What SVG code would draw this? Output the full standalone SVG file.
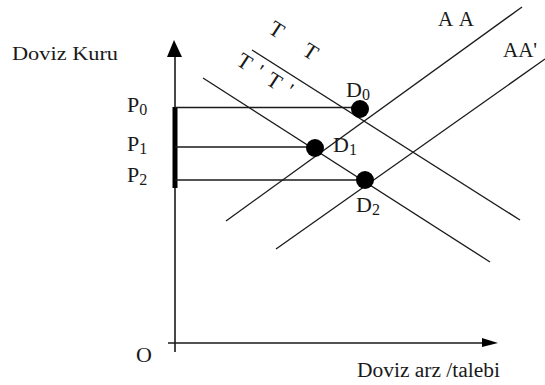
<svg xmlns="http://www.w3.org/2000/svg" width="545" height="385" viewBox="0 0 545 385">
<style>
.ln{stroke:#1a1a1a;stroke-width:1.3;fill:none}
.ax{stroke:#1a1a1a;stroke-width:1.6;fill:none}
.t{font-family:"Liberation Serif","Times New Roman",serif;fill:#1a1a1a}
.dot{fill:#000}
</style>
<rect width="545" height="385" fill="#fff"/>
<g id="axes">
<line class="ax" x1="175" y1="52" x2="175" y2="352"/>
<polygon points="174,40 167,57 182,57" fill="#000"/>
<line class="ax" x1="168" y1="343" x2="486" y2="343"/>
<polygon points="482,338 498,343 482,347" fill="#000"/>
<line x1="175" y1="107" x2="175" y2="188" stroke="#000" stroke-width="5"/>
<text class="t" x="12" y="60" font-size="19" textLength="106" lengthAdjust="spacingAndGlyphs">Doviz Kuru</text>
<text class="t" x="357" y="377" font-size="20" textLength="143" lengthAdjust="spacingAndGlyphs">Doviz arz /talebi</text>
<text class="t" x="136" y="362" font-size="22">O</text>
</g>
<g id="connectors">
<line class="ln" x1="175" y1="107.5" x2="356" y2="107.5"/>
<line class="ln" x1="175" y1="147" x2="310" y2="147"/>
<line class="ln" x1="175" y1="180" x2="360" y2="180"/>
<line class="ln" id="AA" x1="226" y1="221" x2="522" y2="7"/>
<line class="ln" id="AA2" x1="276" y1="249" x2="545" y2="59"/>
<line class="ln" id="TT" x1="252" y1="50" x2="520" y2="220"/>
<line class="ln" id="T2T2" x1="203" y1="78" x2="490" y2="262"/>
</g>
<g id="curve-labels">
<text class="t" x="438" y="26" font-size="21" textLength="36" lengthAdjust="spacing">AA</text>
<text class="t" x="503" y="57" font-size="21">AA'</text>
<text class="t" font-size="22" transform="translate(267,32) rotate(33)" textLength="54" lengthAdjust="spacing">T T</text>
<text class="t" font-size="22" transform="translate(235,64) rotate(33)" textLength="62" lengthAdjust="spacing">T'T'</text>
</g>
<g id="price-labels">
<text class="t" x="127" y="112" font-size="22">P<tspan font-size="16" dy="3">0</tspan></text>
<text class="t" x="127" y="151" font-size="22">P<tspan font-size="16" dy="3">1</tspan></text>
<text class="t" x="127" y="182" font-size="22">P<tspan font-size="16" dy="3">2</tspan></text>
</g>
<g id="D0">
<circle class="dot" cx="360" cy="109" r="9"/>
<text class="t" x="346" y="97" font-size="22">D<tspan font-size="16" dy="3">0</tspan></text>
</g>
<g id="D1">
<circle class="dot" cx="315" cy="148" r="9"/>
<text class="t" x="333" y="152" font-size="22">D<tspan font-size="16" dy="3">1</tspan></text>
</g>
<g id="D2">
<circle class="dot" cx="365" cy="180" r="9"/>
<text class="t" x="356" y="212" font-size="22">D<tspan font-size="16" dy="3">2</tspan></text>
</g>
</svg>
